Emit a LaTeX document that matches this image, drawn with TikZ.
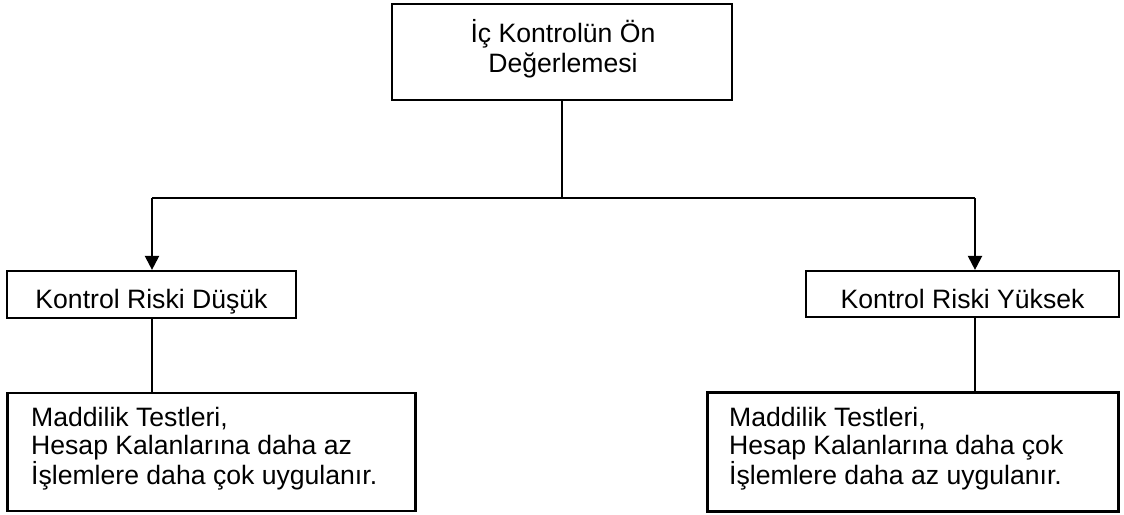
\documentclass[tikz,border=0pt]{standalone}
\usepackage{fontspec}
\setmainfont{Liberation Sans}
\usetikzlibrary{arrows.meta}
\begin{document}
\begin{tikzpicture}[x=1pt,y=-1pt,
  box/.style={draw, line width=2.2pt, inner sep=0pt},
  lbl/.style={inner sep=0pt, anchor=base, font=\fontsize{26.6}{28}\selectfont},
  wire/.style={line width=2.2pt},
  arr/.style={wire, -{Triangle[length=14pt,width=14pt]}}]
\useasboundingbox (0,0) rectangle (1124,514);

% boxes
\node[box, minimum width=340pt, minimum height=96pt] (top) at (562,52) {};
\node[box, minimum width=289pt, minimum height=47pt] (lmid) at (151.5,294.5) {};
\node[box, minimum width=313pt, minimum height=46pt] (rmid) at (962.5,294) {};
\node[box, minimum width=408pt, minimum height=118pt] (lbot) at (211.5,452) {};
\node[box, minimum width=411pt, minimum height=119pt] (rbot) at (913,452) {};

% texts (base anchor of a multi-line node sits on its last line)
\node[lbl, align=center, font=\fontsize{26.6}{30}\selectfont] (toptext) at (563,72) {İç Kontrolün Ön\\Değerlemesi};
\node[lbl] (lmidtext) at (151.5,308) {Kontrol Riski Düşük};
\node[lbl] (rmidtext) at (962.5,308) {Kontrol Riski Yüksek};
\node[lbl, anchor=base west, align=left] (lbottext) at (31,484)
  {Maddilik Testleri,\\Hesap Kalanlarına daha az\\İşlemlere daha çok uygulanır.};
\node[lbl, anchor=base west, align=left] (rbottext) at (729,484)
  {Maddilik Testleri,\\Hesap Kalanlarına daha çok\\İşlemlere daha az uygulanır.};

% connectors
\coordinate (jl) at (152,198);
\coordinate (jr) at (975,198);
\draw[wire] (top.south) -- (top.south |- jl);
\draw[wire] (jl) -- (jr);
\draw[arr] (jl) -- (jl |- lmid.north);
\draw[arr] (jr) -- (jr |- rmid.north);
\draw[wire] (jl |- lmid.south) -- (jl |- lbot.north);
\draw[wire] (jr |- rmid.south) -- (jr |- rbot.north);
\end{tikzpicture}
\end{document}
